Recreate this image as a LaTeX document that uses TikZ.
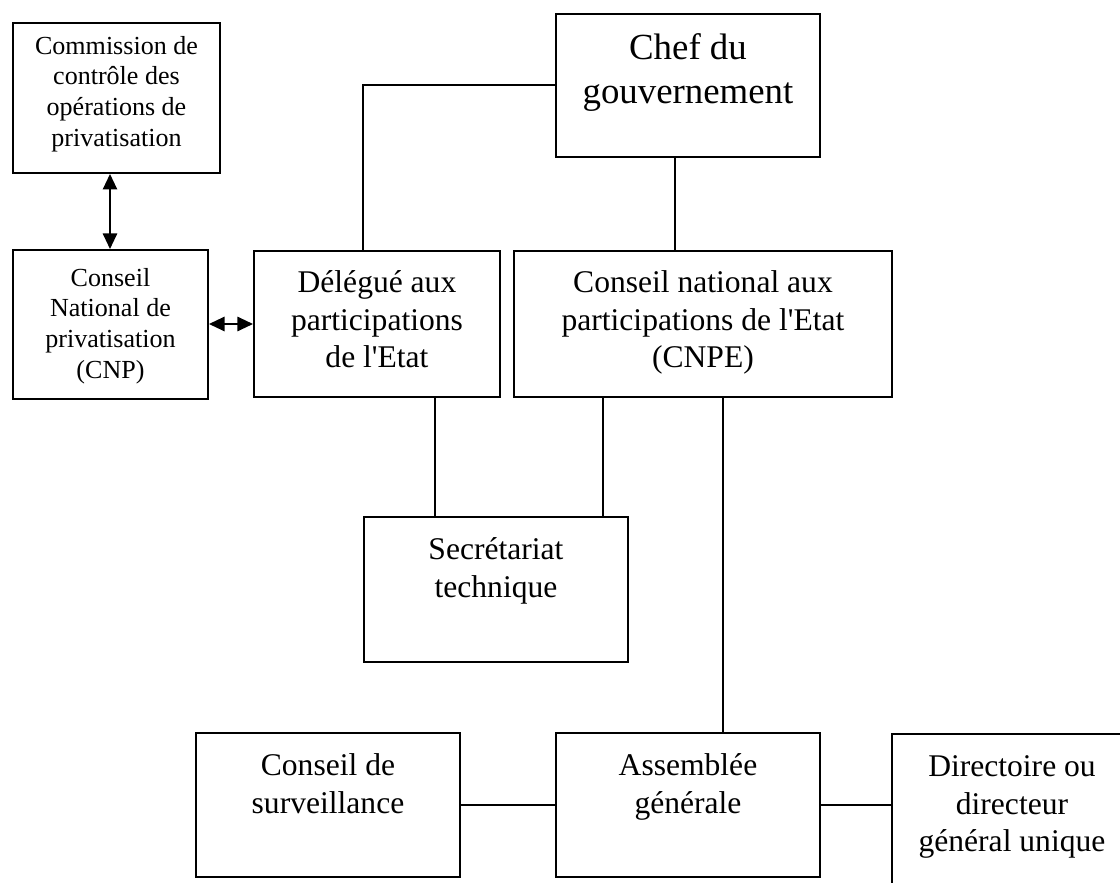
\documentclass[tikz,border=0pt]{standalone}
\usepackage{fontspec}
\setmainfont{Liberation Serif}
\usepackage{tikz}
\usetikzlibrary{arrows.meta}
\newcommand{\unita}{0.38pt}
\newcommand{\piccolo}{\fontsize{9.9}{11.7}\selectfont}
\newcommand{\medio}{\fontsize{12}{14.1}\selectfont}
\newcommand{\grande}{\fontsize{14}{16.4}\selectfont}

\begin{document}
\begin{tikzpicture}[x=\unita, y=-\unita, line width=0.75pt,
    riquadro/.style 2 args={draw, rectangle, inner sep=0pt, anchor=north west,
        minimum width=#1*\unita, minimum height=#2*\unita},
    every label/.style={inner sep=0pt, align=center, font=\medio},
    freccia/.style={{Triangle[length=5.9pt,width=5.4pt]}-{Triangle[length=5.9pt,width=5.4pt]}}]
    % Cornice
    \path[use as bounding box, clip] (0,0) rectangle (1120,883);
    % Riquadri
    \node[riquadro={207}{150}, label={[anchor=north, yshift=-13*\unita, font=\piccolo]north:{Commission de\\contrôle des\\opérations de\\privatisation}}] (commission) at (12,22) {};
    \node[riquadro={195}{149}, label={[anchor=north, yshift=-18*\unita, font=\piccolo]north:{Conseil\\National de\\privatisation\\(CNP)}}] (cnp) at (12,249) {};
    \node[riquadro={264}{143}, label={[anchor=north, yshift=-20*\unita, font=\grande]north:{Chef du\\gouvernement}}] (chef) at (555,13) {};
    \node[riquadro={246}{146}, label={[anchor=north, yshift=-20*\unita]north:{Délégué aux\\participations\\de l\textquotesingle Etat}}] (delegue) at (253,250) {};
    \node[riquadro={378}{146}, label={[anchor=north, yshift=-20*\unita]north:{Conseil national aux\\participations de l\textquotesingle Etat\\(CNPE)}}] (cnpe) at (513,250) {};
    \node[riquadro={264}{145}, label={[anchor=north, yshift=-21*\unita]north:{Secrétariat\\technique}}] (secretariat) at (363,516) {};
    \node[riquadro={264}{144}, label={[anchor=north, yshift=-21*\unita]north:{Conseil de\\surveillance}}] (surveillance) at (195,732) {};
    \node[riquadro={264}{144}, label={[anchor=north, yshift=-21*\unita]north:{Assemblée\\générale}}] (assemblee) at (555,732) {};
    \node[riquadro={240}{170}, label={[anchor=north, yshift=-22*\unita]north:{Directoire ou\\directeur\\général unique}}] (directoire) at (891,733) {};
    % Frecce
    \draw[freccia] (commission.south -| 110,0) -- (cnp.north -| 110,0);
    \draw[freccia] (cnp.east |- 0,324) -- (delegue.west |- 0,324);
    % Collegamenti
    \draw (chef.west) -| (delegue.north -| 363,0);
    \draw (chef.south -| 675,0) -- (cnpe.north -| 675,0);
    \draw (delegue.south -| 435,0) -- (secretariat.north -| 435,0);
    \draw (cnpe.south -| 603,0) -- (secretariat.north -| 603,0);
    \draw (cnpe.south -| 723,0) -- (assemblee.north -| 723,0);
    \draw (surveillance.east) -- (assemblee.west);
    \draw (assemblee.east) -- (directoire.west |- assemblee.east);
\end{tikzpicture}
\end{document}
